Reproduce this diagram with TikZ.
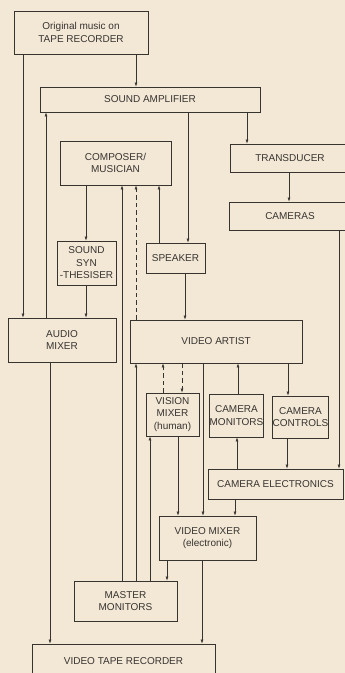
\documentclass[tikz,border=0pt]{standalone}
\usepackage{fontspec}
\setmainfont{Liberation Sans}
\usetikzlibrary{arrows.meta}
\definecolor{paper}{RGB}{243,231,213}
\definecolor{ink}{RGB}{55,52,48}
\tikzset{
  box/.style={draw=ink, line width=0.65pt, rectangle, inner sep=0pt, align=center,
    text=ink, font=\fontsize{10}{12.5}\selectfont},
  arr/.style={draw=ink, line width=0.55pt, -{Latex[length=4pt,width=2.8pt]}},
  darr/.style={arr, dash pattern=on 4.5pt off 3pt},
}
\begin{document}
\begin{tikzpicture}[x=1pt,y=-1pt]
\useasboundingbox (0,0) rectangle (345,673);
\fill[paper] (0,0) rectangle (345,673);
\clip (0,0) rectangle (345,673);

% boxes
\node[box, minimum width=134, minimum height=43] (tape) at (81,32.5) {Original music on\\TAPE RECORDER};
\node[box, minimum width=220, minimum height=25] (amp) at (150,99.5) {SOUND AMPLIFIER};
\node[box, minimum width=111, minimum height=44] (comp) at (115.5,163) {COMPOSER/\\MUSICIAN};
\node[box, minimum width=120, minimum height=28] (trans) at (290,158) {TRANSDUCER};
\node[box, minimum width=122, minimum height=28] (cams) at (290,216) {CAMERAS};
\node[box, minimum width=59, minimum height=44] (synth) at (86.5,263) {SOUND\\SYN\\-THESISER};
\node[box, minimum width=59, minimum height=30] (spk) at (175.5,258) {SPEAKER};
\node[box, minimum width=108, minimum height=44] (amix) at (62,340) {AUDIO\\MIXER};
\node[box, minimum width=172, minimum height=43] (va) at (216,341.5) {VIDEO ARTIST};
\node[box, minimum width=53, minimum height=43] (vm) at (172.5,414.5) {VISION\\MIXER\\(human)};
\node[box, minimum width=53, minimum height=43] (cmon) at (236.5,415.5) {CAMERA\\MONITORS};
\node[box, minimum width=55, minimum height=42] (cctl) at (300.5,417) {CAMERA\\CONTROLS};
\node[box, minimum width=135, minimum height=30] (celec) at (275.5,484) {CAMERA ELECTRONICS};
\node[box, minimum width=97, minimum height=44] (vmix) at (207.5,538) {VIDEO MIXER\\(electronic)};
\node[box, minimum width=103, minimum height=40] (mmon) at (125.5,601) {MASTER\\MONITORS};
\node[box, minimum width=183, minimum height=34] (vtr) at (123.5,661) {VIDEO TAPE RECORDER};

% column coordinates
\foreach \c in {23,46,50,86,122,136,150,159,163,167,178,182,185,188,202,203,235,237,238,247,287,288,289,339}
  \coordinate (x\c) at (\c,0);

% connectors
\draw[arr] (tape.south -| x23) -- (amix.north -| x23);
\draw[arr] (tape.south -| x136) -- (amp.north -| x136);
\draw[arr] (amix.north -| x46) -- (amp.south -| x46);
\draw[arr] (amp.south -| x188) -- (spk.north -| x188);
\draw[arr] (amp.south -| x247) -- (trans.north -| x247);
\draw[arr] (trans.south -| x289) -- (cams.north -| x289);
\draw[arr] (cams.south -| x339) -- (celec.north -| x339);
\draw[arr] (comp.south -| x86) -- (synth.north -| x86);
\draw[arr] (synth.south -| x86) -- (amix.north -| x86);
\draw[arr] (spk.north -| x159) -- (comp.south -| x159);
\draw[arr] (spk.south -| x185) -- (va.north -| x185);
\draw[arr] (mmon.north -| x122) -- (comp.south -| x122);
\draw[darr] (va.north -| x136) -- (comp.south -| x136);
\draw[arr] (mmon.north -| x136) -- (va.south -| x136);
\draw[arr] (mmon.north -| x150) -- (vm.south -| x150);
\draw[darr] (vm.north -| x163) -- (va.south -| x163);
\draw[darr] (va.south -| x182) -- (vm.north -| x182);
\draw[arr] (vm.south -| x178) -- (vmix.north -| x178);
\draw[arr, line width=0.4pt] (va.south -| x203) -- (vmix.north -| x203);
\draw[arr] (cmon.north -| x238) -- (va.south -| x238);
\draw[arr] (celec.north -| x237) -- (cmon.south -| x237);
\draw[arr] (va.south -| x288) -- (cctl.north -| x288);
\draw[arr] (cctl.south -| x287) -- (celec.north -| x287);
\draw[arr] (celec.south -| x235) -- (vmix.north -| x235);
\draw[arr] (vmix.south -| x167) -- (mmon.north -| x167);
\draw[arr] (vmix.south -| x202) -- (vtr.north -| x202);
\draw[arr] (amix.south -| x50) -- (vtr.north -| x50);
\end{tikzpicture}
\end{document}
